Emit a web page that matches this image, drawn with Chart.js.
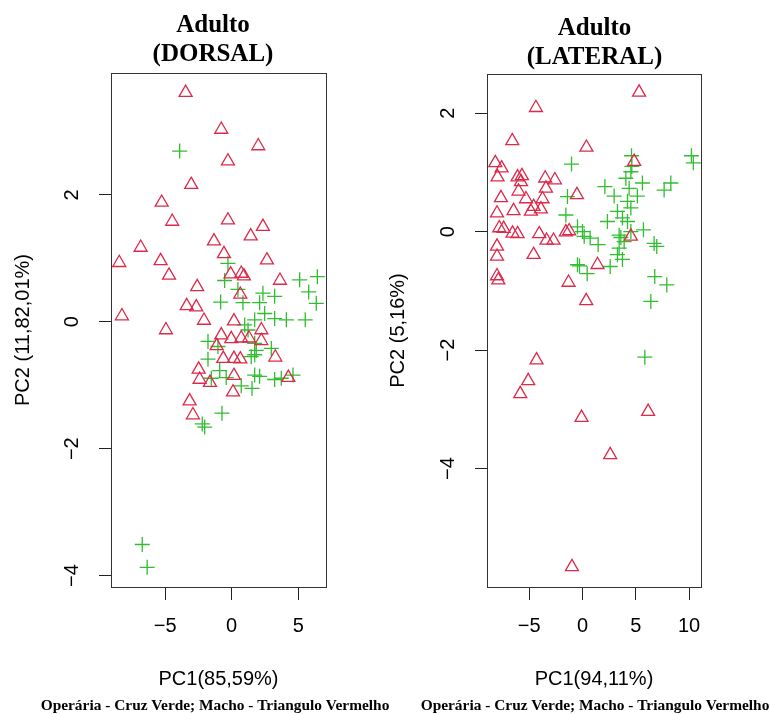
<!DOCTYPE html>
<html>
<head>
<meta charset="utf-8">
<script src="https://cdn.jsdelivr.net/npm/chart.js@4.4.1/dist/chart.umd.min.js"></script>
<style>
  html, body { margin: 0; padding: 0; background: #fff; }
  #wrap { position: relative; width: 771px; height: 714px; overflow: hidden; }
  canvas { position: absolute; top: 0; }
  #dorsal { left: 0; }
  #lateral { left: 385px; }
</style>
</head>
<body>
<div id="wrap">
  <canvas id="dorsal" width="400" height="714"></canvas>
  <canvas id="lateral" width="386" height="714"></canvas>
</div>
<script>
// PCA scores, [PC1, PC2]
const dorsalMacho = [
  [-3.46, 3.61], [-0.78, 3.03], [2.0, 2.77], [-0.28, 2.53], [-3.04, 2.16], [-5.26, 1.88],
  [-4.47, 1.58], [-0.28, 1.60], [2.35, 1.50], [1.43, 1.35], [-1.33, 1.27], [-6.84, 1.17],
  [-0.58, 1.07], [-8.45, 0.93], [-5.34, 0.96], [2.65, 0.97], [-4.71, 0.73], [-0.08, 0.75],
  [0.72, 0.76], [0.92, 0.72], [3.63, 0.65], [-2.59, 0.55], [0.65, 0.43], [-3.38, 0.25],
  [-2.66, 0.23], [-8.25, 0.09], [-2.08, 0.02], [0.17, 0.01], [-4.94, -0.13], [2.23, -0.13],
  [-0.78, -0.21], [-0.03, -0.27], [0.72, -0.26], [1.3, -0.26], [2.23, -0.30], [-1.13, -0.38],
  [-0.63, -0.58], [0.17, -0.58], [0.65, -0.59], [3.28, -0.56], [-2.48, -0.75], [-2.41, -0.91],
  [-1.63, -0.96], [0.17, -0.85], [4.26, -0.88], [0.1, -1.11], [-3.16, -1.25], [-2.91, -1.47]
];
const dorsalOperaria = [
  [-3.91, 2.69], [-0.28, 0.92], [5.11, 0.66], [6.44, 0.71], [-0.53, 0.65], [5.79, 0.47],
  [0.47, 0.51], [2.35, 0.45], [3.23, 0.40], [-0.83, 0.31], [0.85, 0.30], [2.1, 0.30],
  [6.36, 0.29], [2.48, 0.13], [3.23, 0.05], [4.11, 0.03], [5.53, 0.03], [1.73, 0.03],
  [0.98, -0.05], [1.23, -0.13], [-1.78, -0.31], [-1.03, -0.39], [1.73, -0.34], [1.85, -0.45],
  [2.98, -0.42], [-1.78, -0.59], [1.47, -0.55], [1.73, -0.52], [-0.9, -0.77], [-1.53, -0.89],
  [-0.41, -0.88], [1.73, -0.84], [2.1, -0.86], [3.23, -0.91], [3.73, -0.89], [4.61, -0.84],
  [0.72, -1.01], [1.53, -1.05], [-0.73, -1.44], [-2.21, -1.61], [-2.03, -1.66],
  [-6.72, -3.51], [-6.35, -3.87]
];
const lateralMacho = [
  [5.31, 2.35], [-4.37, 2.09], [-6.59, 1.53], [0.37, 1.42], [4.85, 1.18], [-8.18, 1.16],
  [-7.59, 1.07], [-7.97, 0.92], [-6.09, 0.92], [-5.68, 0.94], [-5.77, 0.84], [-3.5, 0.90],
  [-2.59, 0.87], [-3.43, 0.73], [-6.0, 0.68], [-7.65, 0.57], [-0.52, 0.62], [-5.3, 0.55],
  [-3.75, 0.55], [-6.47, 0.35], [-8.02, 0.31], [-4.84, 0.34], [-4.59, 0.42], [-3.9, 0.38],
  [-7.81, 0.06], [-7.4, 0.05], [-6.56, -0.03], [-6.09, -0.04], [-4.06, -0.04], [-3.37, -0.15],
  [-2.72, -0.15], [-1.56, -0.01], [-1.25, 0.01], [4.54, -0.08], [-8.02, -0.25], [-8.02, -0.42],
  [-4.59, -0.39], [1.41, -0.56], [-8.02, -0.75], [-7.9, -0.82], [-1.31, -0.86], [0.35, -1.17],
  [-4.31, -2.17], [-5.09, -2.52], [-5.84, -2.74], [-0.09, -3.14], [6.16, -3.04], [2.6, -3.77],
  [-0.99, -5.66]
];
const lateralOperaria = [
  [10.22, 1.28], [10.4, 1.16], [4.6, 1.28], [-1.03, 1.14], [4.63, 1.10], [4.54, 1.01],
  [4.07, 0.90], [5.62, 0.82], [8.29, 0.82], [7.66, 0.70], [2.1, 0.76], [4.38, 0.73],
  [2.97, 0.60], [5.15, 0.60], [-1.41, 0.59], [4.22, 0.51], [-1.56, 0.28], [3.28, 0.34],
  [3.75, 0.23], [2.34, 0.17], [4.54, 0.40], [4.22, 0.17], [5.72, 0.03], [-0.47, 0.08],
  [0.0, 0.0], [0.16, -0.08], [0.72, -0.11], [1.47, -0.22], [3.44, -0.06], [3.91, -0.17],
  [4.54, 0.0], [6.72, -0.2], [6.97, -0.25], [3.44, -0.28], [3.28, -0.39], [3.75, -0.47],
  [3.6, -0.1], [-0.47, -0.56], [-0.28, -0.58], [2.6, -0.59], [0.44, -0.71], [6.78, -0.76],
  [7.91, -0.90], [6.41, -1.18], [5.85, -2.12]
];

const dorsalXTicks = [-5, 0, 5];
const dorsalYTicks = [-4, -2, 0, 2];
const lateralXTicks = [-5, 0, 5, 10];
const lateralYTicks = [-4, -2, 0, 2];

const RED = '#dc2a4a';
const GREEN = '#30be30';
const SANS = '"Liberation Sans", Arial, sans-serif';
const SERIF = '"Liberation Serif", "Times New Roman", serif';

const toPoints = (pairs) => pairs.map(([x, y]) => ({ x, y }));
const fmtTick = (v) => (v < 0 ? '\u2212' + Math.abs(v) : String(v));

// box around the plotting region, drawn over the points like R's box()
const frame = {
  id: 'frame',
  afterDatasetsDraw(chart) {
    const { ctx, chartArea: a } = chart;
    ctx.save();
    ctx.strokeStyle = '#333';
    ctx.lineWidth = 1;
    ctx.strokeRect(a.left + 0.5, a.top + 0.5, a.right - a.left, a.bottom - a.top);
    ctx.restore();
  }
};

// two-line bold title above the box and the legend note under the x title
const panelText = {
  id: 'panelText',
  afterDraw(chart, args, opts) {
    const { ctx } = chart;
    ctx.save();
    ctx.fillStyle = '#000';
    ctx.textAlign = 'center';
    ctx.textBaseline = 'middle';
    ctx.font = 'bold 25px ' + SERIF;
    opts.title.forEach((line, i) => ctx.fillText(line, opts.titleX, opts.titleY + i * 29));
    ctx.font = 'bold 15.4px ' + SERIF;
    ctx.fillText(opts.note, opts.noteX, opts.noteY);
    ctx.restore();
  }
};

function panel(id, cfg) {
  const canvas = document.getElementById(id);
  const area = cfg.area;

  return new Chart(canvas, {
    type: 'scatter',
    data: {
      datasets: [
        {
          label: 'Macho',
          data: toPoints(cfg.macho),
          pointStyle: 'triangle',
          pointRadius: 7.5,
          pointHoverRadius: 7.5,
          borderColor: RED,
          pointBorderColor: RED,
          backgroundColor: 'rgba(0,0,0,0)',
          pointBackgroundColor: 'rgba(0,0,0,0)',
          pointBorderWidth: 1.3,
          clip: false,
        },
        {
          label: 'Operária',
          data: toPoints(cfg.operaria),
          pointStyle: 'cross',
          pointRadius: 7.5,
          pointHoverRadius: 7.5,
          borderColor: GREEN,
          pointBorderColor: GREEN,
          pointBorderWidth: 1.3,
          clip: false,
        },
      ],
    },
    options: {
      responsive: false,
      animation: false,
      events: [],
      layout: { padding: { top: area.top, right: canvas.width - area.right, left: 0, bottom: 0 } },
      plugins: {
        legend: { display: false },
        tooltip: { enabled: false },
        panelText: cfg.text,
      },
      scales: {
        x: {
          type: 'linear',
          min: cfg.xMin,
          max: cfg.xMax,
          afterBuildTicks: (s) => { s.ticks = cfg.xTicks.map((v) => ({ value: v })); },
          afterFit: (s) => { s.height = canvas.height - area.bottom; },
          border: { display: false },
          grid: { drawOnChartArea: false, drawTicks: true, tickLength: 13, color: '#222', lineWidth: 1 },
          ticks: {
            color: '#000',
            font: { family: SANS, size: 20 },
            padding: 14,
            autoSkip: false,
            maxRotation: 0,
            callback: fmtTick,
          },
          title: {
            display: true,
            text: cfg.xTitle,
            color: '#000',
            font: { family: SANS, size: 20 },
            padding: { top: 0, bottom: 23 },
          },
        },
        y: {
          type: 'linear',
          min: cfg.yMin,
          max: cfg.yMax,
          afterBuildTicks: (s) => { s.ticks = cfg.yTicks.map((v) => ({ value: v })); },
          afterFit: (s) => { s.width = area.left; },
          border: { display: false },
          grid: { drawOnChartArea: false, drawTicks: true, tickLength: 12, color: '#222', lineWidth: 1 },
          ticks: {
            color: '#000',
            font: { family: SANS, size: 20 },
            padding: 15,
            minRotation: 90,
            maxRotation: 90,
            crossAlign: 'center',
            autoSkip: false,
            callback: fmtTick,
          },
          title: {
            display: true,
            text: cfg.yTitle,
            color: '#000',
            font: { family: SANS, size: 20 },
            padding: { top: cfg.yTitlePad, bottom: 0 },
          },
        },
      },
    },
    plugins: [frame, panelText],
  });
}

panel('dorsal', {
  macho: dorsalMacho,
  operaria: dorsalOperaria,
  xTicks: dorsalXTicks,
  yTicks: dorsalYTicks,
  xMin: -9.07, xMax: 7.09,
  yMin: -4.18, yMax: 3.92,
  area: { left: 111, right: 326, top: 73, bottom: 587 },
  xTitle: 'PC1(85,59%)',
  yTitle: 'PC2 (11,82,01%)',
  yTitlePad: 11,
  text: {
    title: ['Adulto', '(DORSAL)'], titleX: 213, titleY: 25.5,
    note: 'Operária - Cruz Verde; Macho - Triangulo Vermelho', noteX: 215, noteY: 706,
  },
});

panel('lateral', {
  macho: lateralMacho,
  operaria: lateralOperaria,
  xTicks: lateralXTicks,
  yTicks: lateralYTicks,
  xMin: -8.96, xMax: 11.12,
  yMin: -6.0, yMax: 2.66,
  area: { left: 102, right: 316, top: 74, bottom: 587 },
  xTitle: 'PC1(94,11%)',
  yTitle: 'PC2 (5,16%)',
  yTitlePad: 1,
  text: {
    title: ['Adulto', '(LATERAL)'], titleX: 209.5, titleY: 28.5,
    note: 'Operária - Cruz Verde; Macho - Triangulo Vermelho', noteX: 210, noteY: 706,
  },
});
</script>
</body>
</html>
